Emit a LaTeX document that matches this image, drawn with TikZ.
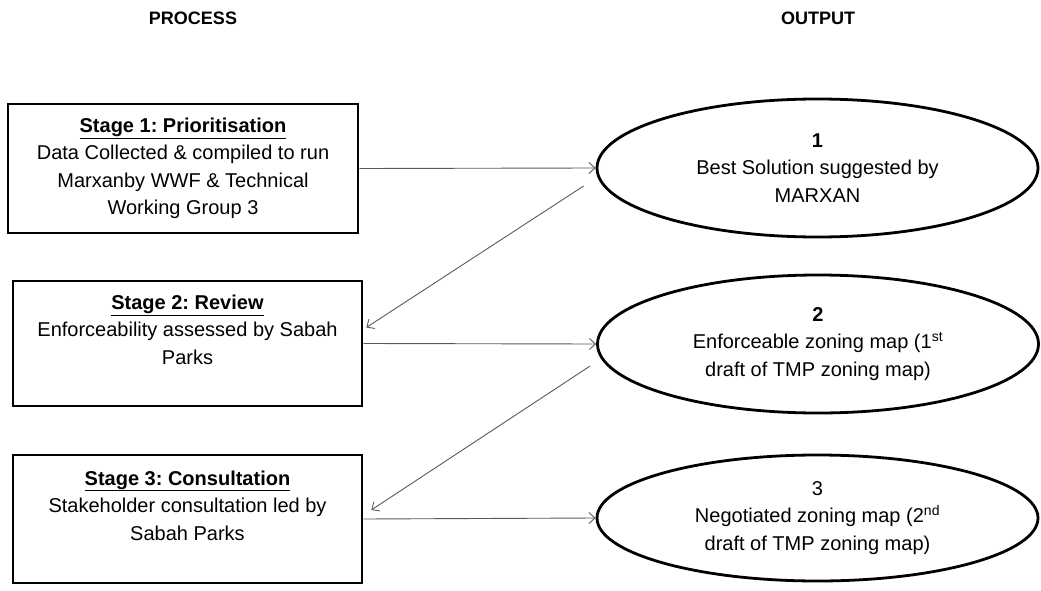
\documentclass[tikz,border=0pt]{standalone}
\usepackage{fontspec}
\setmainfont{Liberation Sans}
\usetikzlibrary{shapes.geometric,arrows.meta}
\frenchspacing
\begin{document}
\begin{tikzpicture}[x=1pt,y=-1pt,
  bodytext/.style={font=\fontsize{20}{27.5}\selectfont},
  stagebox/.style={draw=black,line width=2.6pt,rectangle,inner sep=0pt,align=center,bodytext},
  outcome/.style={draw=black,line width=2.8pt,ellipse,inner sep=0pt,align=center,minimum width=441pt,bodytext},
  flow/.style={draw=black!65,line width=0.9pt,-{Straight Barb[length=6pt,width=11pt]}},
  header/.style={font=\fontsize{18}{20}\selectfont\bfseries}]
\useasboundingbox (0,0) rectangle (1041,591);

% column headings
\node[header] (hp) at (193,18) {PROCESS};
\node[header] (ho) at (818,18) {OUTPUT};

% process stages
\node[stagebox,minimum width=350pt,minimum height=129pt] (b1) at (183,168.5)
  {\underline{\textbf{Stage 1: Prioritisation}}\\Data Collected \& compiled to run\\Marxanby WWF \& Technical\\Working Group 3};
\node[stagebox,minimum width=349pt,minimum height=125pt] (b2) at (187.5,343.5)
  {\underline{\textbf{Stage 2: Review}}\\Enforceability assessed by Sabah\\Parks\\\mbox{}};
\node[stagebox,minimum width=349pt,minimum height=128pt] (b3) at (187.5,519)
  {\underline{\textbf{Stage 3: Consultation}}\\Stakeholder consultation led by\\Sabah Parks\\\mbox{}};

% outputs
\node[outcome,minimum height=138pt] (e1) at (817.5,168)
  {\textbf{1}\\Best Solution suggested by\\MARXAN};
\node[outcome,minimum height=138pt] (e2) at (818,344)
  {\textbf{2}\\Enforceable zoning map (1\textsuperscript{st}\\draft of TMP zoning map)};
\node[outcome,minimum height=126pt] (e3) at (817.5,518)
  {3\\Negotiated zoning map (2\textsuperscript{nd}\\draft of TMP zoning map)};

% connectors
\draw[flow] (b1.east) -- (e1.west);
\draw[flow] ([shift={(-12,18)}]e1.west) -- ([shift={(3,-16)}]b2.east);
\draw[flow] (b2.east) -- (e2.west);
\draw[flow] ([shift={(-6,22)}]e2.west) -- ([shift={(8,-9)}]b3.east);
\draw[flow] (b3.east) -- (e3.west);
\end{tikzpicture}
\end{document}
